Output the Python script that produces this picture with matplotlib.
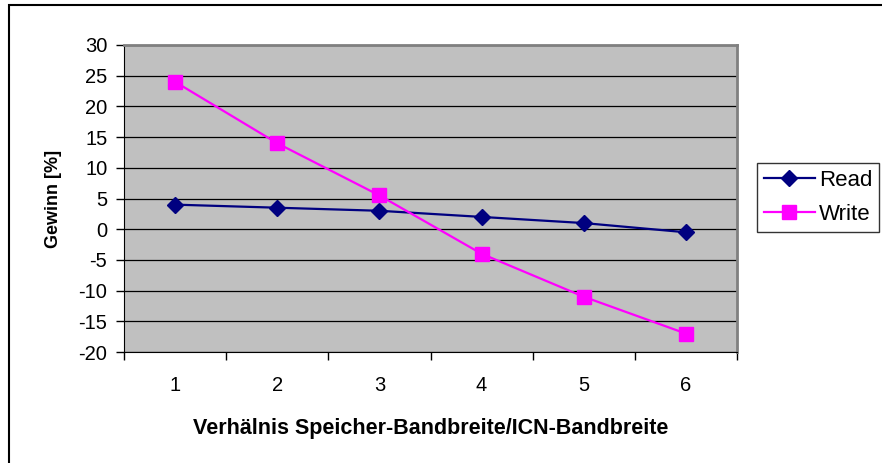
import matplotlib.pyplot as plt
from matplotlib.patches import Rectangle

plt.rcParams['font.family'] = ['Liberation Sans', 'DejaVu Sans']
plt.rcParams['axes.unicode_minus'] = False

# Data
ratio = [1, 2, 3, 4, 5, 6]
read_gain = [4, 3.5, 3, 2, 1, -0.5]
write_gain = [24, 14, 5.5, -4, -11, -17]

fig = plt.figure(figsize=(8.82, 4.63), dpi=100)
ax = fig.add_axes([124 / 882, 111 / 463, 613 / 882, 307 / 463])
ax.set_facecolor('#C0C0C0')

ax.plot(ratio, read_gain, color='#000080', lw=1.6, marker='D',
        markersize=8, label='Read', zorder=3)
ax.plot(ratio, write_gain, color='#FF00FF', lw=1.6, marker='s',
        markersize=10, label='Write', zorder=3)

ax.set_xlim(0.5, 6.5)
ax.set_ylim(-20, 30)
ax.set_yticks(range(-20, 31, 5))
ax.yaxis.grid(True, color='black', lw=0.9)
ax.set_axisbelow(True)

ax.set_xticks(ratio)
ax.set_xticks([x + 0.5 for x in range(0, 7)], minor=True)
ax.tick_params(axis='x', which='major', length=0, pad=17, labelsize=14.5)
ax.tick_params(axis='x', which='minor', length=6, width=1, direction='out')
ax.tick_params(axis='y', length=6, width=1, direction='out', pad=6, labelsize=14.5)

for side in ['top', 'right']:
    ax.spines[side].set_color('#808080')
    ax.spines[side].set_linewidth(2)
ax.spines['left'].set_color('black')
ax.spines['bottom'].set_color('black')

ax.set_ylabel('Gewinn [%]', fontsize=13, fontweight='bold', labelpad=12)
ax.set_xlabel('Verhälnis Speicher-Bandbreite/ICN-Bandbreite', fontsize=15.5,
              fontweight='bold', labelpad=17)

leg = fig.legend(loc='upper left', bbox_to_anchor=(757 / 882, 1 - 163 / 463),
                 fontsize=16, frameon=True, fancybox=False, edgecolor='black',
                 borderpad=0.3, handlelength=2.3, handletextpad=0.2,
                 labelspacing=0.6, borderaxespad=0)
leg.get_frame().set_linewidth(1)

# outer chart border
fig.patches.append(Rectangle((9 / 882, -0.5), 2, 0.5 + 1 - 5 / 463,
                             transform=fig.transFigure, fill=False,
                             edgecolor='black', lw=1.5))

fig.savefig('out.png', dpi=100)
